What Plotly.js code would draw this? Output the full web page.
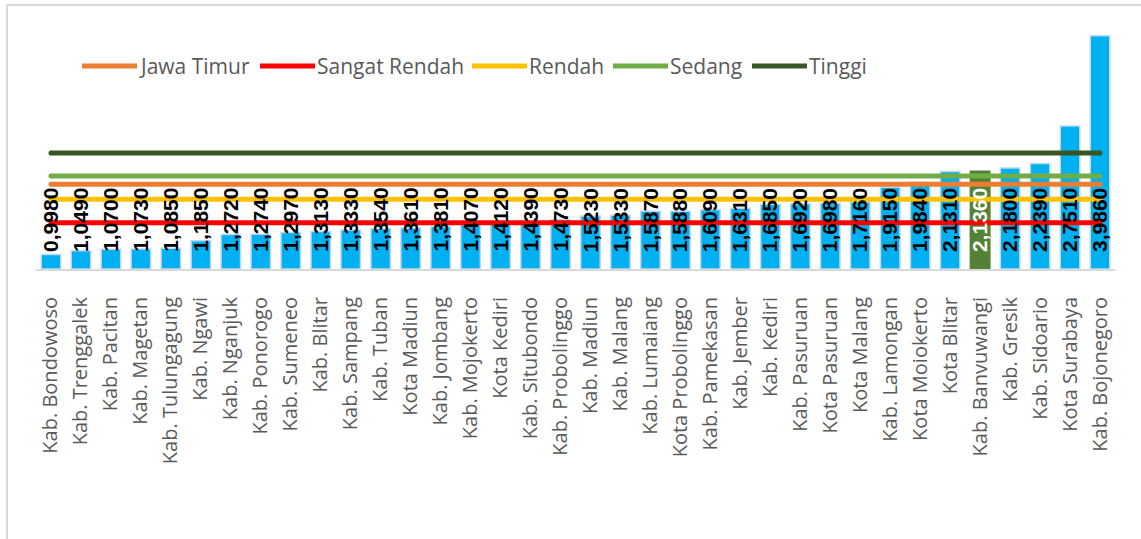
<!DOCTYPE html>
<html>
<head>
<meta charset="utf-8">
<script src="https://cdn.plot.ly/plotly-3.0.1.min.js"></script>
<style>
html,body{margin:0;padding:0;background:#fff;}
#wrap{position:relative;width:1141px;height:539px;overflow:hidden;}
#chart{position:absolute;left:0;top:0;width:1141px;height:539px;}
#btop{position:absolute;left:7px;top:4px;width:1134px;height:0;border-top:2px solid #D9D9D9;}
#bleft{position:absolute;left:6px;top:4px;width:0;height:535px;border-left:2px solid #D9D9D9;}
</style>
</head>
<body>
<div id="wrap">
<div id="chart"></div>
<div id="btop"></div>
<div id="bleft"></div>
</div>
<script>
const categories = ["Kab. Bondowoso","Kab. Trenggalek","Kab. Pacitan","Kab. Magetan","Kab. Tulungagung","Kab. Ngawi","Kab. Nganjuk","Kab. Ponorogo","Kab. Sumeneo","Kab. Blitar","Kab. Sampang","Kab. Tuban","Kota Madiun","Kab. Jombang","Kab. Mojokerto","Kota Kediri","Kab. Situbondo","Kab. Probolinggo","Kab. Madiun","Kab. Malang","Kab. Lumaiang","Kota Probolinggo","Kab. Pamekasan","Kab. Jember","Kab. Kediri","Kab. Pasuruan","Kota Pasuruan","Kota Malang","Kab. Lamongan","Kota Moiokerto","Kota Blitar","Kab. Banvuwangi","Kab. Gresik","Kab. Sidoario","Kota Surabaya","Kab. Bojonegoro"];
const values = [0.998,1.049,1.070,1.073,1.085,1.185,1.272,1.274,1.297,1.313,1.333,1.354,1.361,1.381,1.407,1.412,1.439,1.473,1.523,1.533,1.587,1.588,1.609,1.631,1.685,1.692,1.698,1.716,1.915,1.984,2.131,2.136,2.180,2.239,2.751,3.986];
const highlighted = "Kab. Banvuwangi";
const lineNames = ["Jawa Timur","Sangat Rendah","Rendah","Sedang","Tinggi"];
const lineValues = [1.957,1.433,1.752,2.070,2.385];
const lineColors = ["#ED7D31","#FF0000","#FFC000","#70AD47","#375623"];
const axisMin = 0.8, axisMax = 4.2;

// layout geometry (pixels)
const W = 1141, H = 539, ML = 36, MR = 26, MT = 20, MB = 270;
const plotW = W - ML - MR, plotH = H - MT - MB;
const pxX = px => (px - ML) / plotW;
const pxY = py => (H - MB - py) / plotH;

const barColors = categories.map(c => c===highlighted ? "#548235" : "#00B0F0");
const barLines = categories.map(c => c===highlighted ? "#548235" : "#BDD7EE");

const traces = [{
  type:"bar", x:categories, y:values.map(v=>v-axisMin), base:axisMin, showlegend:false, hoverinfo:"skip",
  marker:{color:barColors, line:{color:barLines, width:1.5}}
}];

lineNames.forEach((n,i)=>{
  traces.push({type:"scatter", mode:"lines+markers", name:n, showlegend:false,
    x:[categories[0], categories[categories.length-1]], y:[lineValues[i], lineValues[i]],
    line:{color:lineColors[i], width:5},
    marker:{color:lineColors[i], size:5, symbol:"circle", line:{width:0}},
    hoverinfo:"skip", cliponaxis:false});
});

const annotations = values.map((v,i)=>({
  x:categories[i], y:1.47, xref:"x", yref:"y",
  text:v.toFixed(4).replace(".",","), textangle:-90, showarrow:false,
  xanchor:"center", yanchor:"middle",
  font:{family:"Liberation Sans, Arial, sans-serif", size:21, color: categories[i]===highlighted ? "#FFFFFF" : "#000000", weight:"bold"}
}));

// custom legend (long line keys like the original)
const legendStarts = [82, 260, 472, 613, 752];
const legendY = 66, keyLen = 55, keyGap = 0;
const shapes = [];
lineNames.forEach((n,i)=>{
  const x0 = legendStarts[i];
  shapes.push({type:"line", xref:"paper", yref:"paper",
    x0:pxX(x0), x1:pxX(x0+keyLen), y0:pxY(legendY), y1:pxY(legendY),
    line:{color:lineColors[i], width:5}});
  annotations.push({xref:"paper", yref:"paper", x:pxX(x0+keyLen+keyGap), y:pxY(legendY),
    xanchor:"left", yanchor:"middle", showarrow:false, text:n,
    font:{family:"Open Sans, sans-serif", size:21, color:"#595959"}});
});

const layout = {
  width:W, height:H,
  margin:{l:ML, r:MR, t:MT, b:MB, pad:0},
  paper_bgcolor:"rgba(0,0,0,0)", plot_bgcolor:"rgba(0,0,0,0)",
  bargap:0.35,
  showlegend:false,
  xaxis:{type:"category", range:[-0.5, categories.length-0.5], autorange:false,
    tickangle:-90, ticks:"", ticklabelstandoff:18,
    tickfont:{family:"Open Sans, sans-serif", size:20, color:"#595959"},
    showline:true, linecolor:"#D9D9D9", linewidth:2, showgrid:false, zeroline:false, fixedrange:true},
  yaxis:{range:[axisMin,axisMax], autorange:false, visible:false, showgrid:false, zeroline:false, fixedrange:true},
  annotations:annotations,
  shapes:shapes,
  font:{family:"Open Sans, sans-serif"}
};
Plotly.newPlot("chart", traces, layout, {staticPlot:true, displayModeBar:false});
</script>
</body>
</html>
